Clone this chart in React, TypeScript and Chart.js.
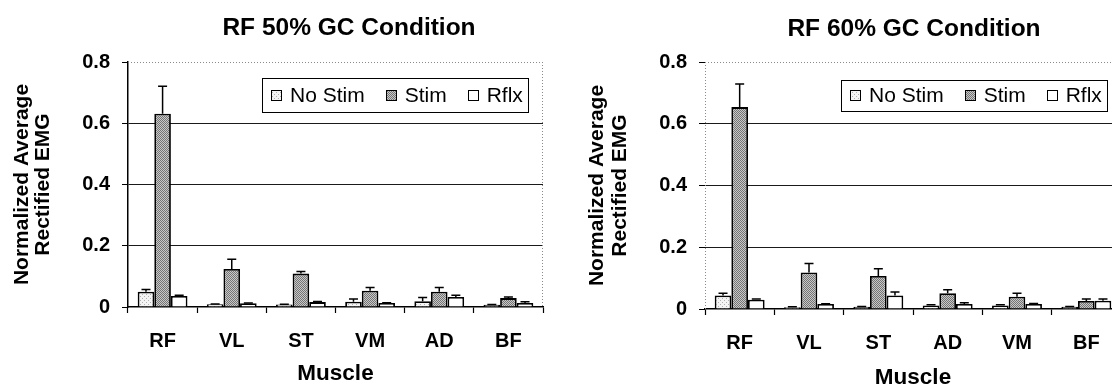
import React, { useEffect, useRef } from 'react';
import { Chart, registerables } from 'chart.js';

Chart.register(...registerables);

const FAMILY = "'Liberation Sans', Arial, Helvetica, sans-serif";
Chart.defaults.font.family = FAMILY;

// ---------- data ----------
const seriesNames = ['No Stim', 'Stim', 'Rflx'];
const yMin = 0;
const yMax = 0.8;
const yStep = 0.2;

const muscles50 = ['RF', 'VL', 'ST', 'VM', 'AD', 'BF'];
const noStim50 = [0.05, 0.009, 0.008, 0.017, 0.019, 0.007];
const noStim50Err = [0.007, 0.001, 0.001, 0.009, 0.012, 0.001];
const stim50 = [0.631, 0.124, 0.109, 0.053, 0.05, 0.029];
const stim50Err = [0.09, 0.032, 0.007, 0.011, 0.014, 0.004];
const rflx50 = [0.036, 0.012, 0.016, 0.013, 0.033, 0.013];
const rflx50Err = [0.002, 0.001, 0.002, 0.001, 0.005, 0.004];

const muscles60 = ['RF', 'VL', 'ST', 'AD', 'VM', 'BF'];
const noStim60 = [0.044, 0.006, 0.007, 0.011, 0.011, 0.007];
const noStim60Err = [0.007, 0.001, 0.001, 0.003, 0.003, 0.001];
const stim60 = [0.654, 0.118, 0.107, 0.051, 0.04, 0.026];
const stim60Err = [0.075, 0.029, 0.023, 0.011, 0.011, 0.006];
const rflx60 = [0.03, 0.016, 0.044, 0.016, 0.016, 0.027];
const rflx60Err = [0.002, 0.001, 0.011, 0.004, 0.002, 0.005];

// ---------- layout / style ----------
type Geo = {
  left: number;
  width: number;
  height: number;
  yAxisWidth: number;
  padRight: number;
  xAxisHeight: number;
  titlePadTop: number;
  titlePadBottom: number;
  yTitleLH: string;
  yTitlePadTop: number;
  xTitlePadBottom: number;
  solidYAxis: boolean;
  legendOffR: number;
  legendOffT: number;
  legendH: number;
};

const geoLeft: Geo = {
  left: 0,
  width: 698,
  height: 385,
  yAxisWidth: 128,
  padRight: 155,
  xAxisHeight: 78,
  titlePadTop: 13.8,
  titlePadBottom: 18.8,
  yTitleLH: '21px',
  yTitlePadTop: 11.5,
  xTitlePadBottom: 0,
  solidYAxis: true,
  legendOffR: 15,
  legendOffT: 16,
  legendH: 34,
};

const geoRight: Geo = {
  left: 556,
  width: 716,
  height: 390,
  yAxisWidth: 149,
  padRight: 151,
  xAxisHeight: 81,
  titlePadTop: 15,
  titlePadBottom: 17.6,
  yTitleLH: '23px',
  yTitlePadTop: 29.5,
  xTitlePadBottom: 1,
  solidYAxis: false,
  legendOffR: 14,
  legendOffT: 18,
  legendH: 31,
};

function makePattern(kind: string): CanvasPattern | string {
  const c = document.createElement('canvas');
  c.width = 4;
  c.height = 4;
  const g = c.getContext('2d');
  if (!g) return '#ccc';
  if (kind === 'stim') {
    g.fillStyle = '#c8c8c8';
    g.fillRect(0, 0, 4, 4);
    g.fillStyle = '#747474';
    for (let y = 0; y < 4; y++) {
      for (let x = 0; x < 4; x++) {
        if ((x + y) % 2 === 0) g.fillRect(x, y, 1, 1);
      }
    }
  } else if (kind === 'nostim') {
    g.fillStyle = '#f4f4f4';
    g.fillRect(0, 0, 4, 4);
    g.fillStyle = '#b0b0b0';
    g.fillRect(0, 0, 1, 1);
    g.fillRect(2, 2, 1, 1);
  } else {
    g.fillStyle = '#ffffff';
    g.fillRect(0, 0, 4, 4);
  }
  const p = g.createPattern(c, 'repeat');
  return p || '#ccc';
}

function errorBarPlugin(errors: number[][]) {
  return {
    id: 'errorBars',
    afterDatasetsDraw(chart: any) {
      const { ctx } = chart;
      const yScale = chart.scales.y;
      ctx.save();
      ctx.strokeStyle = '#000';
      ctx.lineWidth = 1.5;
      chart.data.datasets.forEach((ds: any, di: number) => {
        const meta = chart.getDatasetMeta(di);
        const errs = errors[di];
        meta.data.forEach((bar: any, i: number) => {
          const v = ds.data[i] as number;
          const e = errs[i];
          if (!e) return;
          const x = bar.x;
          const yTop = yScale.getPixelForValue(v);
          const yErr = yScale.getPixelForValue(v + e);
          ctx.beginPath();
          ctx.moveTo(x, yTop);
          ctx.lineTo(x, yErr);
          ctx.moveTo(x - 4.5, yErr);
          ctx.lineTo(x + 4.5, yErr);
          ctx.stroke();
        });
      });
      ctx.restore();
    },
  };
}

function framePlugin(geo: Geo) {
  return {
    id: 'plotFrame',
    beforeDatasetsDraw(chart: any) {
      const { ctx, chartArea } = chart;
      const { left, right, top, bottom } = chartArea;
      ctx.save();
      ctx.strokeStyle = '#8a8a8a';
      ctx.lineWidth = 1;
      ctx.setLineDash([1, 2]);
      ctx.beginPath();
      ctx.moveTo(left, Math.round(top) + 0.5);
      ctx.lineTo(right, Math.round(top) + 0.5);
      ctx.moveTo(Math.round(right) - 0.5, top);
      ctx.lineTo(Math.round(right) - 0.5, bottom);
      if (!geo.solidYAxis) {
        ctx.moveTo(Math.round(left) + 0.5, top);
        ctx.lineTo(Math.round(left) + 0.5, bottom);
      }
      ctx.stroke();
      ctx.restore();
    },
  };
}

function legendPlugin(labels: string[], fills: (CanvasPattern | string)[], geo: Geo) {
  return {
    id: 'boxLegend',
    afterDraw(chart: any) {
      const { ctx, chartArea } = chart;
      ctx.save();
      ctx.font = `21px ${FAMILY}`;
      const sw = 11;
      const padL = 9;
      const gapST = 8;
      const gapItem = 21;
      const padR = 5;
      const widths = labels.map((l) => ctx.measureText(l).width);
      const total =
        padL +
        widths.reduce((a, w) => a + sw + gapST + w, 0) +
        gapItem * (labels.length - 1) +
        padR;
      const right = Math.round(chartArea.right - geo.legendOffR);
      const left = Math.round(right - total);
      const top = Math.round(chartArea.top + geo.legendOffT);
      const h = geo.legendH;
      ctx.fillStyle = '#fff';
      ctx.fillRect(left, top, right - left, h);
      ctx.strokeStyle = '#000';
      ctx.lineWidth = 1;
      ctx.strokeRect(left + 0.5, top + 0.5, right - left, h);
      let x = left + padL;
      const cy = top + h / 2;
      labels.forEach((l, i) => {
        const sy = Math.round(cy - sw / 2);
        ctx.fillStyle = fills[i];
        ctx.fillRect(Math.round(x), sy, sw, sw);
        ctx.strokeRect(Math.round(x) + 0.5, sy + 0.5, sw - 1, sw - 1);
        x += sw + gapST;
        ctx.fillStyle = '#000';
        ctx.textBaseline = 'middle';
        ctx.textAlign = 'left';
        ctx.fillText(l, x, cy + 1);
        x += widths[i] + gapItem;
      });
      ctx.restore();
    },
  };
}

type Props = {
  title: string;
  muscles: string[];
  values: number[][];
  errors: number[][];
  geo: Geo;
};

function EmgChart({ title, muscles, values, errors, geo }: Props) {
  const ref = useRef<HTMLCanvasElement | null>(null);

  useEffect(() => {
    const canvas = ref.current;
    if (!canvas) return;
    const fills = [makePattern('nostim'), makePattern('stim'), makePattern('rflx')];
    const chart = new Chart(canvas, {
      type: 'bar',
      data: {
        labels: muscles,
        datasets: seriesNames.map((name, i) => ({
          label: name,
          data: values[i],
          backgroundColor: fills[i] as any,
          borderColor: '#000',
          borderWidth: 1.8,
          categoryPercentage: 0.72,
          barPercentage: 1.0,
        })),
      },
      options: {
        responsive: false,
        animation: false,
        devicePixelRatio: 1,
        layout: { padding: 0 },
        plugins: {
          legend: { display: false },
          tooltip: { enabled: false },
          title: {
            display: true,
            text: title,
            color: '#000',
            font: { family: FAMILY, size: 24.5, weight: 'bold', lineHeight: 1.2 },
            padding: { top: geo.titlePadTop, bottom: geo.titlePadBottom },
          },
        },
        scales: {
          x: {
            type: 'category',
            offset: true,
            grid: {
              display: true,
              offset: true,
              drawOnChartArea: false,
              drawTicks: true,
              tickLength: 6,
              color: '#000',
              tickColor: '#000',
              tickWidth: 1.2,
            },
            border: { display: true, color: '#000', width: 1.5 },
            ticks: {
              color: '#000',
              font: { family: FAMILY, size: 20, weight: 'bold' },
              padding: 16,
              maxRotation: 0,
              autoSkip: false,
            },
            title: {
              display: true,
              text: 'Muscle',
              color: '#000',
              font: { family: FAMILY, size: 22.5, weight: 'bold', lineHeight: 1 },
              padding: { top: 0, bottom: geo.xTitlePadBottom },
            },
            afterFit: (s: any) => {
              s.height = geo.xAxisHeight;
            },
          },
          y: {
            type: 'linear',
            position: 'left',
            min: yMin,
            max: yMax,
            ticks: {
              stepSize: yStep,
              color: '#000',
              font: { family: FAMILY, size: 20, weight: 'bold' },
              padding: 12,
            },
            grid: {
              display: true,
              drawTicks: true,
              tickLength: 6,
              tickColor: '#000',
              lineWidth: 1,
              color: (ctx: any) => {
                const v = ctx.tick ? ctx.tick.value : null;
                if (v === null) return '#1a1a1a';
                if (Math.abs(v - yMin) < 1e-9 || Math.abs(v - yMax) < 1e-9) return 'rgba(0,0,0,0)';
                return '#1a1a1a';
              },
            },
            border: { display: geo.solidYAxis, color: '#000', width: 1.5 },
            title: {
              display: true,
              text: ['Normalized Average', 'Rectified EMG'],
              color: '#000',
              font: { family: FAMILY, size: 21, weight: 'bold', lineHeight: geo.yTitleLH },
              padding: { top: geo.yTitlePadTop, bottom: 0 },
            },
            afterFit: (s: any) => {
              s.width = geo.yAxisWidth;
            },
          },
          yPad: {
            type: 'linear',
            position: 'right',
            display: true,
            grid: { display: false, drawTicks: false },
            ticks: { display: false },
            border: { display: false },
            afterFit: (s: any) => {
              s.width = geo.padRight;
            },
          },
        },
      } as any,
      plugins: [framePlugin(geo), errorBarPlugin(errors), legendPlugin(seriesNames, fills, geo)],
    });
    return () => chart.destroy();
  }, []);

  return (
    <div
      style={{
        position: 'absolute',
        left: geo.left,
        top: 0,
        width: geo.width,
        height: geo.height,
      }}
    >
      <canvas
        ref={ref}
        width={geo.width}
        height={geo.height}
        style={{ display: 'block', width: geo.width, height: geo.height }}
      />
    </div>
  );
}

export default function App() {
  return (
    <div
      style={{
        position: 'fixed',
        left: 0,
        top: 0,
        width: 1112,
        height: 385,
        overflow: 'hidden',
        background: '#fff',
      }}
    >
      <EmgChart
        title="RF 50% GC Condition"
        muscles={muscles50}
        values={[noStim50, stim50, rflx50]}
        errors={[noStim50Err, stim50Err, rflx50Err]}
        geo={geoLeft}
      />
      <EmgChart
        title="RF 60% GC Condition"
        muscles={muscles60}
        values={[noStim60, stim60, rflx60]}
        errors={[noStim60Err, stim60Err, rflx60Err]}
        geo={geoRight}
      />
    </div>
  );
}
